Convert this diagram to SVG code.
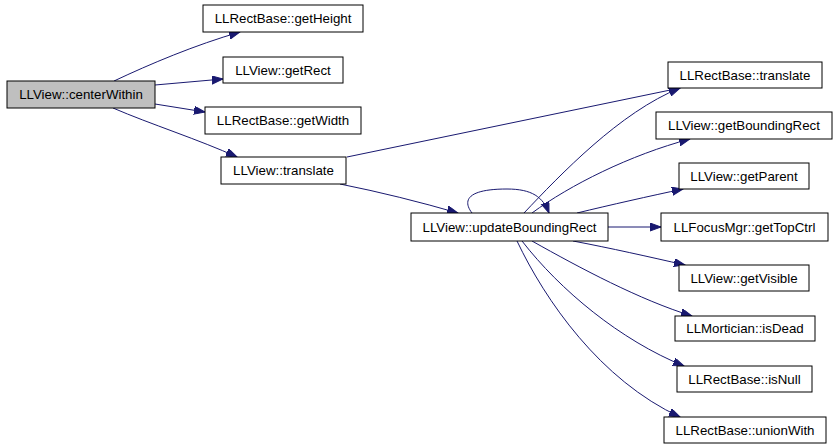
<svg xmlns="http://www.w3.org/2000/svg" width="837" height="448" viewBox="0 0 837 448">
<defs>
<style>
.n rect{fill:#ffffff;stroke:#000000;stroke-width:1}
.n.root rect{fill:#bfbfbf}
.n text{font-family:"Liberation Sans",Arial,sans-serif;font-size:13.3px;fill:#000000;text-anchor:middle}
.e path{fill:none;stroke:#191970;stroke-width:1;marker-end:url(#ah)}
</style>
<marker id="ah" markerUnits="userSpaceOnUse" markerWidth="12" markerHeight="10" refX="11" refY="4" orient="auto">
<path d="M0,0 L11,4 L0,8 Z" fill="#191970" stroke="#191970" stroke-width="1"/>
</marker>
</defs>
<rect width="837" height="448" fill="#ffffff"/>
<g id="connectors" class="e">
<path d="M114,81 C150,64 195,45 240,32"/>
<path d="M155,85 L223,79"/>
<path d="M155,104 L205,112"/>
<path d="M113,108 C150,124 200,140 237,157"/>
<path d="M347,157 L680,88"/>
<path d="M340,184 C380,192 420,202 458,213"/>
<path d="M472,213 C462,200 468,189 507,189 C532,189 543,197 549,213"/>
<path d="M524,213 C560,175 620,112 680,88"/>
<path d="M532,213 C570,185 630,155 690,139"/>
<path d="M577,213 C610,205 650,196 683,189"/>
<path d="M608,227 L661,227"/>
<path d="M573,241 C610,248 650,257 685,265"/>
<path d="M532,241 C580,268 640,300 692,316"/>
<path d="M522,241 C560,290 620,340 684,366"/>
<path d="M517,241 C545,300 600,380 680,417"/>
</g>
<g id="node-centerWithin" class="n root"><rect x="7" y="81" width="148" height="27"/><text x="81" y="99">LLView::centerWithin</text></g>
<g id="node-getHeight" class="n"><rect x="203" y="5" width="160" height="27"/><text x="283" y="23">LLRectBase::getHeight</text></g>
<g id="node-getRect" class="n"><rect x="223" y="57" width="120" height="26"/><text x="283" y="75">LLView::getRect</text></g>
<g id="node-getWidth" class="n"><rect x="205" y="107" width="156" height="27"/><text x="283" y="125">LLRectBase::getWidth</text></g>
<g id="node-translate" class="n"><rect x="221" y="157" width="125" height="27"/><text x="283.5" y="175">LLView::translate</text></g>
<g id="node-updateBoundingRect" class="n"><rect x="411" y="213" width="197" height="28"/><text x="509.5" y="231.5">LLView::updateBoundingRect</text></g>
<g id="node-rectTranslate" class="n"><rect x="668" y="62" width="154" height="26"/><text x="745" y="79.5">LLRectBase::translate</text></g>
<g id="node-getBoundingRect" class="n"><rect x="656" y="112" width="176" height="27"/><text x="744" y="130">LLView::getBoundingRect</text></g>
<g id="node-getParent" class="n"><rect x="679" y="163" width="130" height="26"/><text x="744" y="180.5">LLView::getParent</text></g>
<g id="node-getTopCtrl" class="n"><rect x="661" y="213" width="167" height="28"/><text x="744.5" y="231.5">LLFocusMgr::getTopCtrl</text></g>
<g id="node-getVisible" class="n"><rect x="679" y="265" width="130" height="26"/><text x="744" y="282.5">LLView::getVisible</text></g>
<g id="node-isDead" class="n"><rect x="675" y="316" width="140" height="25"/><text x="745" y="333">LLMortician::isDead</text></g>
<g id="node-isNull" class="n"><rect x="677" y="366" width="135" height="26"/><text x="744.5" y="383.5">LLRectBase::isNull</text></g>
<g id="node-unionWith" class="n"><rect x="664" y="417" width="162" height="26"/><text x="745" y="434.5">LLRectBase::unionWith</text></g>
</svg>
